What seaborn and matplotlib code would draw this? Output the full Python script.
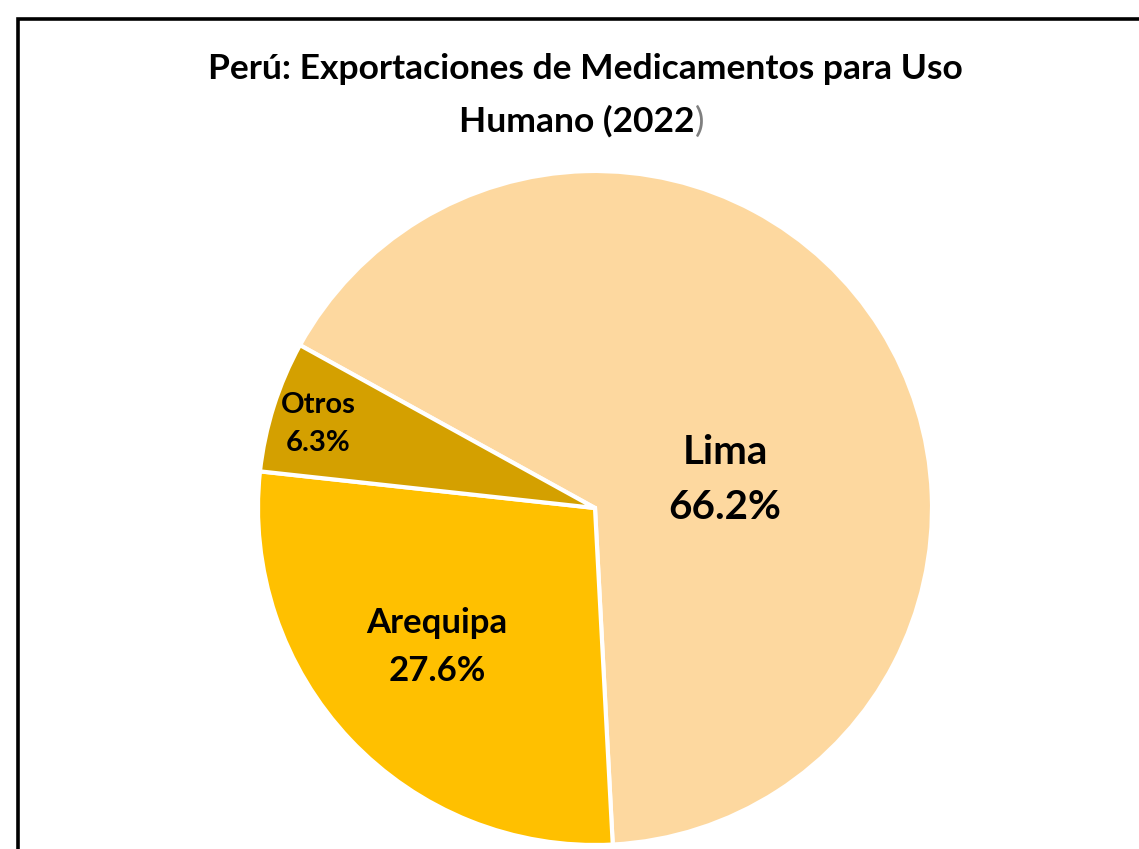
import matplotlib.pyplot as plt
import seaborn as sns
from matplotlib.patches import Rectangle

# Data
regions = ["Lima", "Arequipa", "Otros"]
shares = [66.2, 27.6, 6.3]
colors = ["#FDD89F", "#FFC000", "#D4A000"]
title_line1 = "Perú: Exportaciones de Medicamentos para Uso"
title_line2 = "Humano (2022"


def draw_chart():
    sns.set_theme(style="white")
    plt.rcParams["font.family"] = ["Lato", "DejaVu Sans"]

    W, H = 1139, 849
    fig = plt.figure(figsize=(W / 100, H / 100), dpi=100)

    # outer chart frame, cut off at right and bottom like the screenshot
    fig.patches.append(Rectangle((18 / W, -0.2), 2.0, 1.2 - 19 / H,
                                 transform=fig.transFigure, fill=False,
                                 edgecolor="black", linewidth=2.6))

    # pie axes: centre (595, 508) px, radius 337 px
    r = 337
    ax = fig.add_axes([(595 - r) / W, (H - 508 - r) / H, 2 * r / W, 2 * r / H])
    ax.pie(shares, colors=colors, startangle=151.1, counterclock=False,
           wedgeprops=dict(edgecolor="white", linewidth=3))
    ax.set_xlim(-1, 1)
    ax.set_ylim(-1, 1)

    label_pos = {"Lima": (0.386, 0.083, 29),
                 "Arequipa": (-0.469, -0.412, 25),
                 "Otros": (-0.822, 0.249, 21)}
    for name, val in zip(regions, shares):
        x, y, size = label_pos[name]
        ax.text(x, y, f"{name}\n{val:.1f}%", ha="center", va="center",
                fontsize=size, fontweight="bold", color="black",
                linespacing=1.6)

    fig.text(585 / W, 1 - 79 / H, title_line1, ha="center", va="baseline",
             fontsize=25.5, fontweight="bold", color="black")
    t2 = fig.text(577 / W, 1 - 132 / H, title_line2, ha="center",
                  va="baseline", fontsize=25.5, fontweight="bold", color="black")
    fig.add_artist(plt.Annotation(")", xy=(1, 0), xycoords=t2, va="bottom",
                                  ha="left", fontsize=25.5, color="#7F7F7F"))

    fig.savefig("out.png", dpi=100, facecolor="white")


if __name__ == "__main__":
    draw_chart()
